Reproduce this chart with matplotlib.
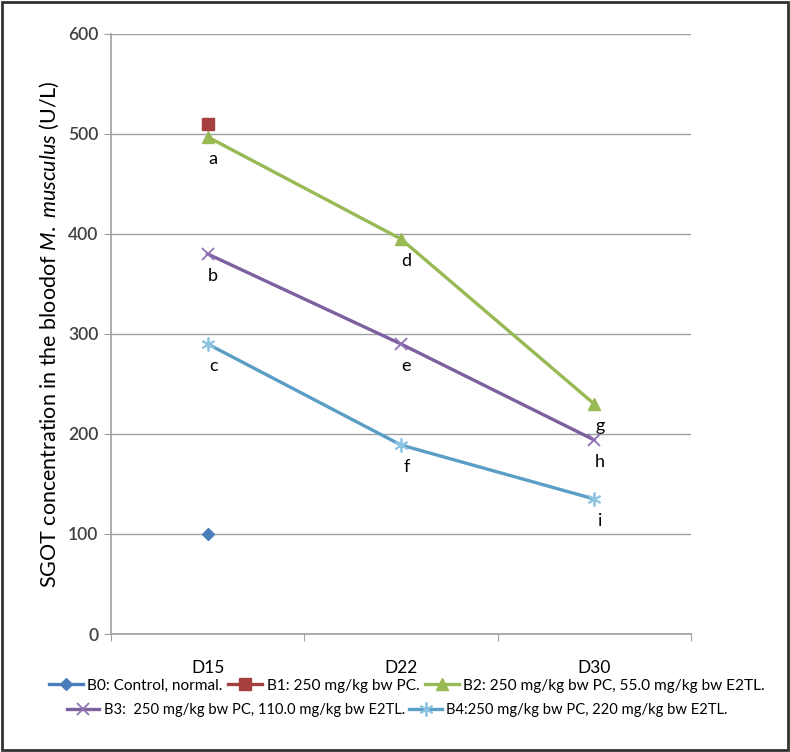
import matplotlib as mpl
import matplotlib.pyplot as plt
from matplotlib.patches import Rectangle

# data
days = ['D15', 'D22', 'D30']
b0 = [100, None, None]
b1 = [510, None, None]
b2 = [497, 395, 230]
b3 = [380, 290, 194]
b4 = [290, 189, 135]
b2_letters = ['a', 'd', 'g']
b3_letters = ['b', 'e', 'h']
b4_letters = ['c', 'f', 'i']
series_names = ['B0: Control, normal.',
                'B1: 250 mg/kg bw PC.',
                'B2: 250 mg/kg bw PC, 55.0 mg/kg bw E2TL.',
                'B3:  250 mg/kg bw PC, 110.0 mg/kg bw E2TL.',
                'B4:250 mg/kg bw PC, 220 mg/kg bw E2TL.']

# General plot parameters
font = 'Lato'
mpl.rcParams['font.family'] = font
mpl.rcParams['mathtext.fontset'] = 'custom'
mpl.rcParams['mathtext.rm'] = font
mpl.rcParams['mathtext.it'] = font + ':italic'
mpl.rcParams['mathtext.bf'] = font + ':bold'

colors = ['#4A7EBB', '#A5403E', '#98B954', '#7D60A0', '#5A9EC6']
edge_colors = ['#4A7EBB', '#A5403E', '#98B954', '#8F74B4', '#8CC3E2']
markers = ['D', 's', '^', 'x', (6, 2, 0)]
msizes = [6, 9, 9, 9, 10]

fig = plt.figure(figsize=(7.9, 7.52), dpi=100)
ax = fig.add_axes([0.1405, 0.1569, 0.734, 0.798])

x = [0, 1, 2]
all_series = [b0, b1, b2, b3, b4]
handles = []
for i, s in enumerate(all_series):
    xs = [xx for xx, v in zip(x, s) if v is not None]
    ys = [v for v in s if v is not None]
    h, = ax.plot(xs, ys, color=colors[i], lw=2.4, marker=markers[i],
                 markersize=msizes[i], markeredgewidth=1.3 if i >= 3 else 1,
                 markeredgecolor=edge_colors[i], markerfacecolor=colors[i],
                 label=series_names[i], zorder=3 + i)
    handles.append(h)

# letters under the points
for s, letters in [(b2, b2_letters), (b3, b3_letters), (b4, b4_letters)]:
    for xx, v, t in zip(x, s, letters):
        ax.annotate(t, (xx, v), xytext=(4, -10), textcoords='offset points',
                    ha='center', va='top', fontsize=13, color='black')

ax.set_xlim(-0.5, 2.5)
ax.set_ylim(0, 600)
ax.set_yticks(range(0, 601, 100))
ax.yaxis.grid(True, color='#A0A0A0', lw=1)
ax.set_axisbelow(True)

ax.set_xticks([-0.5, 0.5, 1.5, 2.5])
ax.set_xticklabels([])
ax.set_xticks(x, minor=True)
ax.set_xticklabels(days, minor=True, fontsize=12.5)
ax.tick_params(axis='x', which='major', length=5, color='#A0A0A0', direction='out')
ax.tick_params(axis='x', which='minor', length=0, pad=19)
ax.tick_params(axis='y', length=5, color='#A0A0A0', labelsize=12.5, pad=4)
for lab in ax.get_yticklabels():
    lab.set_color('#404040')
    lab.set_fontweight('semibold')

for side in ['top', 'right']:
    ax.spines[side].set_visible(False)
for side in ['left', 'bottom']:
    ax.spines[side].set_color('#A0A0A0')
    ax.spines[side].set_linewidth(1.2)

ax.set_ylabel(r'SGOT concentration in the bloodof $\mathit{M.\ musculus}$ (U/L)',
              fontsize=15.5, labelpad=5)

# legend in two rows like the excel one
leg1 = fig.legend(handles=handles[:3], loc='center', bbox_to_anchor=(0.515, 0.088),
                  ncol=3, frameon=False, fontsize=11.1, handlelength=2.2,
                  handletextpad=0.3, columnspacing=0.35)
leg2 = fig.legend(handles=handles[3:], loc='center', bbox_to_anchor=(0.503, 0.056),
                  ncol=2, frameon=False, fontsize=10.6, handlelength=2.2,
                  handletextpad=0.3, columnspacing=0.3)

# outer frame
fig.patches.append(Rectangle((0.002, 0.002), 0.996, 0.996, transform=fig.transFigure,
                             fill=False, edgecolor='#333333', lw=2))

fig.savefig('out.png', dpi=100)
